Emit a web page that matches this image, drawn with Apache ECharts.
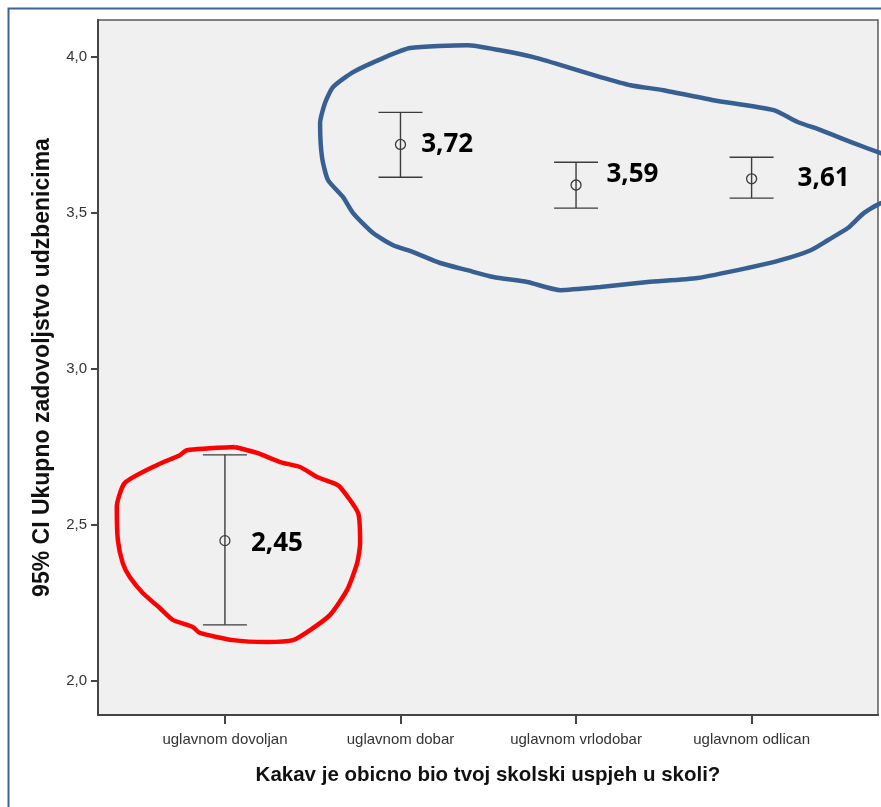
<!DOCTYPE html>
<html>
<head>
<meta charset="utf-8">
<script src="https://cdn.jsdelivr.net/npm/echarts@6/dist/echarts.min.js"></script>
<style>
html,body{margin:0;padding:0;background:#fff;}
#chart{width:881px;height:807px;}
</style>
</head>
<body>
<div id="chart"></div>
<script>
// Categories (x positions 1..4)
const categories = ['uglavnom dovoljan', 'uglavnom dobar', 'uglavnom vrlodobar', 'uglavnom odlican'];
// Means and 95% CI bounds
const means  = [2.45, 3.72, 3.59, 3.61];
const lowers = [2.18, 3.615, 3.516, 3.548];
const uppers = [2.725, 3.823, 3.663, 3.679];
// Y tick values
const yTicks = [2.0, 2.5, 3.0, 3.5, 4.0];
// Annotation texts and their anchor (left-middle) in data coords
const annoTexts = ['2,45', '3,72', '3,59', '3,61'];
const annoX = [1.148, 2.118, 3.173, 4.262];
const annoY = [2.442, 3.721, 3.622, 3.609];
// Hand-drawn outline annotations (data coords)
const blueOutline = [
 [4.85,3.548],[4.736,3.532],[4.639,3.5],[4.548,3.452],[4.434,3.413],[4.337,3.381],[4.165,3.349],[3.977,3.324],
 [3.692,3.292],[3.407,3.279],[3.139,3.263],[2.911,3.253],[2.722,3.279],[2.529,3.295],[2.380,3.317],[2.226,3.340],
 [2.072,3.375],[1.958,3.397],[1.844,3.436],[1.730,3.5],[1.673,3.551],[1.587,3.606],[1.553,3.679],[1.542,3.788],
 [1.570,3.853],[1.616,3.904],[1.730,3.952],[1.901,3.997],[2.055,4.029],[2.380,4.038],[2.568,4.022],[2.757,4.0],
 [2.951,3.968],[3.139,3.936],[3.310,3.910],[3.498,3.894],[3.783,3.862],[4.126,3.830],[4.262,3.792],[4.394,3.766],
 [4.582,3.724],[4.736,3.692],[4.85,3.670]
];
const redOutline = [
 [1.057,2.75],[0.783,2.740],[0.743,2.724],[0.612,2.692],[0.430,2.635],[0.384,2.558],[0.390,2.452],[0.418,2.378],
 [0.458,2.333],[0.532,2.282],[0.629,2.234],[0.703,2.196],[0.817,2.173],[0.857,2.154],[1.046,2.131],[1.240,2.125],
 [1.388,2.131],[1.485,2.163],[1.599,2.212],[1.696,2.292],[1.753,2.378],[1.770,2.442],[1.759,2.538],[1.656,2.622],
 [1.616,2.635],[1.525,2.654],[1.428,2.686],[1.314,2.702],[1.183,2.731],[1.057,2.75]
];
const xAxisTitle = 'Kakav je obicno bio tvoj skolski uspjeh u skoli?';
const yAxisTitle = '95% CI Ukupno zadovoljstvo udzbenicima';

const barData = categories.map((c, i) => [i + 1, means[i], lowers[i], uppers[i]]);
const annoData = annoTexts.map((t, i) => [annoX[i], annoY[i], t]);

const chart = echarts.init(document.getElementById('chart'), null, {renderer: 'canvas'});
const FONT = '"Liberation Sans", Arial, sans-serif';
const ink = '#3c3c3c';

chart.setOption({
  animation: false,
  backgroundColor: '#ffffff',
  graphic: [{
    type: 'rect', silent: true, z: 100,
    shape: {x: 8.5, y: 8.5, width: 1000, height: 1000},
    style: {fill: 'none', stroke: '#3f629b', lineWidth: 2}
  }],
  grid: {
    left: 98, right: 3, top: 20, bottom: 92,
    show: true, backgroundColor: '#f0f0f0', borderColor: '#5a5a5a', borderWidth: 1.5
  },
  xAxis: {
    type: 'value', min: 0.277, max: 4.72,
    splitLine: {show: false},
    axisLine: {show: true, onZero: false, lineStyle: {color: '#444', width: 2}},
    axisTick: {show: true, customValues: [1, 2, 3, 4], length: 9, lineStyle: {color: '#444', width: 2}},
    axisLabel: {
      customValues: [1, 2, 3, 4], margin: 17,
      formatter: v => categories[Math.round(v) - 1] || '',
      color: '#333', fontSize: 15, fontFamily: FONT
    },
    name: xAxisTitle, nameLocation: 'middle', nameGap: 60,
    nameTextStyle: {fontSize: 20.5, fontWeight: 'bold', color: '#111', fontFamily: FONT, verticalAlign: 'middle'}
  },
  yAxis: {
    type: 'value', min: 1.891, max: 4.119,
    splitLine: {show: false},
    axisLine: {show: true, onZero: false, lineStyle: {color: '#444', width: 2}},
    axisTick: {show: true, customValues: yTicks, length: 7, lineStyle: {color: '#444', width: 2}},
    axisLabel: {
      customValues: yTicks, margin: 11,
      formatter: v => v.toFixed(1).replace('.', ','),
      color: '#333', fontSize: 15, fontFamily: FONT
    },
    name: yAxisTitle, nameLocation: 'middle', nameGap: 55,
    nameTextStyle: {fontSize: 23, fontWeight: 'bold', color: '#111', fontFamily: FONT, verticalAlign: 'middle'}
  },
  series: [
    {
      type: 'custom', data: barData, z: 5,
      renderItem: function (params, api) {
        const x = api.value(0);
        const m = api.coord([x, api.value(1)]);
        const lo = api.coord([x, api.value(2)]);
        const hi = api.coord([x, api.value(3)]);
        const hw = 22;
        const st = {stroke: ink, lineWidth: 1.4, fill: 'none'};
        return {type: 'group', children: [
          {type: 'line', shape: {x1: m[0], y1: hi[1], x2: m[0], y2: lo[1]}, style: st},
          {type: 'line', shape: {x1: m[0] - hw, y1: hi[1], x2: m[0] + hw, y2: hi[1]}, style: st},
          {type: 'line', shape: {x1: m[0] - hw, y1: lo[1], x2: m[0] + hw, y2: lo[1]}, style: st},
          {type: 'circle', shape: {cx: m[0], cy: m[1], r: 5}, style: {stroke: ink, lineWidth: 1.3, fill: 'none'}}
        ]};
      }
    },
    {
      type: 'custom', data: annoData, z: 6,
      renderItem: function (params, api) {
        const p = api.coord([api.value(0), api.value(1)]);
        return {type: 'text', x: p[0], y: p[1], style: {
          text: annoTexts[params.dataIndex], fill: '#000',
          font: 'bold 26px "Open Sans", "Noto Sans", sans-serif',
          align: 'left', verticalAlign: 'middle'
        }};
      }
    },
    {
      type: 'line', data: blueOutline, symbol: 'none', smooth: 0.2, clip: false, z: 4,
      lineStyle: {color: '#375f91', width: 4.5}
    },
    {
      type: 'line', data: redOutline, symbol: 'none', smooth: 0.2, clip: false, z: 4,
      lineStyle: {color: '#ff0000', width: 4.5}
    }
  ]
});
</script>
</body>
</html>
